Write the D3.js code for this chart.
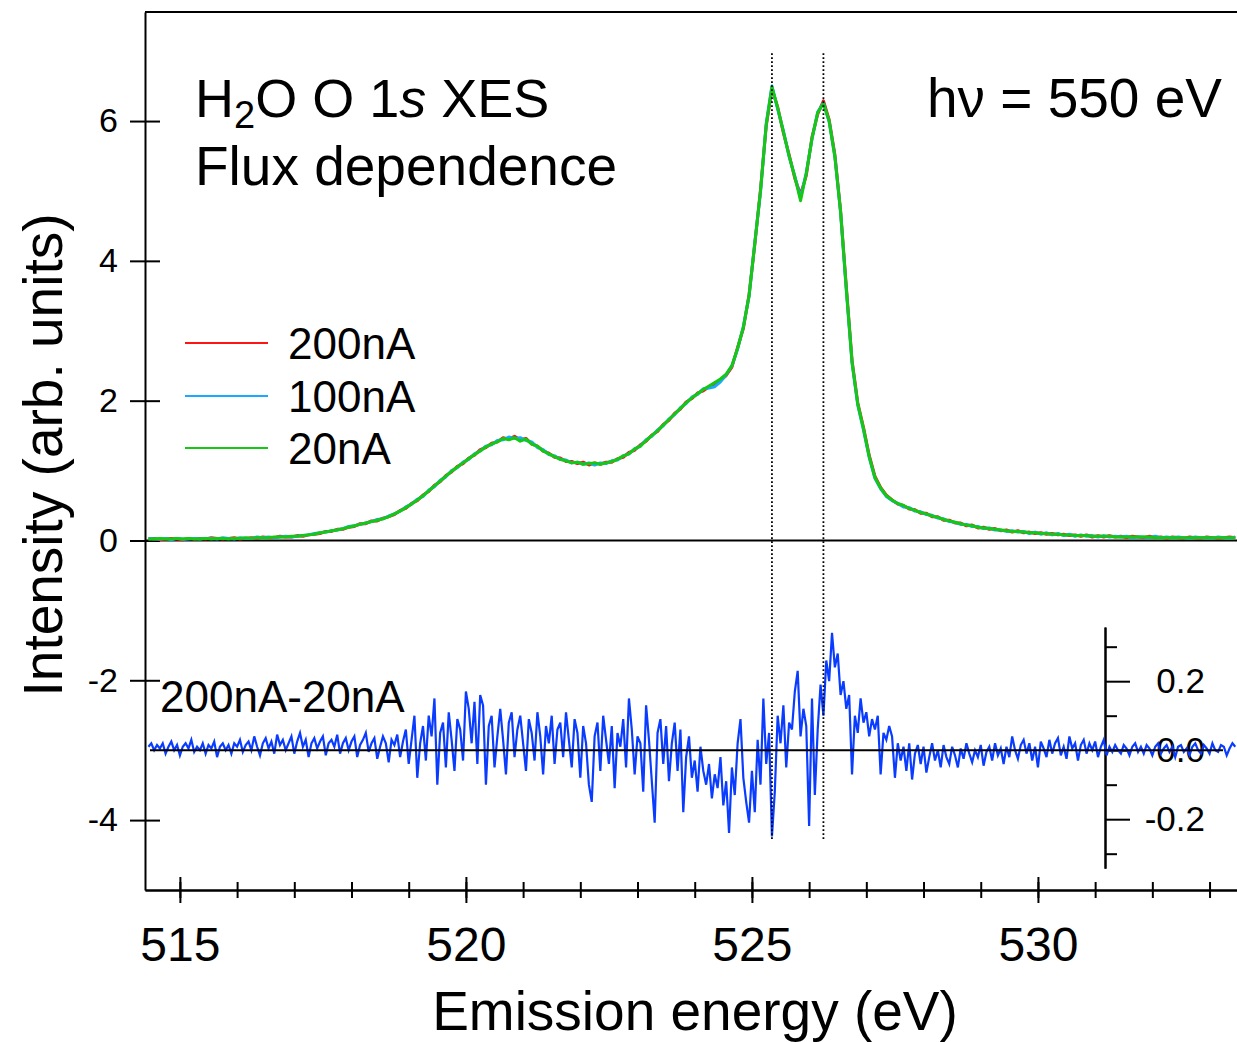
<!DOCTYPE html>
<html>
<head>
<meta charset="utf-8">
<script src="https://cdnjs.cloudflare.com/ajax/libs/d3/7.8.5/d3.min.js"></script>
<style>
body { margin: 0; background: #fff; }
text { font-family: "Liberation Sans", Arial, sans-serif; fill: #000; }
</style>
</head>
<body>
<div id="chart"></div>
<script>
// spectra sampled every 0.1 eV starting at 514.45 eV
var energy_start = 514.45, energy_step = 0.1;

var flux_200 = [
 0.02,0.03,0.01,0.02,0.03,0.02,0.01,0.03,0.02,0.03,
 0.02,0.04,0.03,0.02,0.03,0.04,0.02,0.03,0.04,0.03,
 0.05,0.04,0.04,0.06,0.05,0.05,0.07,0.06,0.08,0.09,
 0.10,0.13,0.13,0.16,0.16,0.19,0.20,0.24,0.24,0.28,
 0.28,0.32,0.34,0.37,0.43,0.46,0.53,0.57,0.65,0.70,
 0.79,0.84,0.93,0.98,1.06,1.10,1.18,1.22,1.30,1.33,
 1.39,1.41,1.47,1.45,1.49,1.44,1.46,1.38,1.35,1.28,
 1.25,1.19,1.18,1.13,1.13,1.10,1.12,1.08,1.11,1.09,
 1.12,1.12,1.17,1.19,1.26,1.29,1.37,1.42,1.51,1.56,
 1.66,1.72,1.82,1.88,1.98,2.03,2.11,2.14,2.20,2.24,
 2.29,2.36,2.48,2.76,3.03,3.52,4.23,5.02,5.93,6.46,
 6.20,5.83,5.52,5.18,4.95,5.22,5.77,6.10,6.29,6.02,
 5.52,4.72,3.63,2.58,1.97,1.62,1.22,0.92,0.76,0.65,
 0.58,0.52,0.50,0.45,0.44,0.39,0.39,0.34,0.34,0.29,
 0.29,0.25,0.25,0.21,0.22,0.18,0.19,0.16,0.17,0.14,
 0.15,0.12,0.14,0.11,0.12,0.10,0.11,0.09,0.10,0.08,
 0.09,0.07,0.08,0.06,0.08,0.05,0.07,0.05,0.07,0.05,
 0.06,0.04,0.06,0.05,0.04,0.06,0.04,0.05,0.03,0.05,
 0.04,0.03,0.05,0.04,0.03,0.05,0.04,0.03,0.04,0.05,
 0.04];

var flux_100 = [
 0.03,0.02,0.02,0.03,0.01,0.03,0.02,0.02,0.03,0.02,
 0.03,0.03,0.02,0.04,0.03,0.02,0.04,0.03,0.03,0.05,
 0.04,0.05,0.04,0.05,0.06,0.05,0.06,0.07,0.08,0.10,
 0.11,0.12,0.14,0.15,0.17,0.20,0.21,0.23,0.25,0.27,
 0.30,0.31,0.35,0.38,0.42,0.48,0.52,0.59,0.63,0.72,
 0.77,0.86,0.91,1.00,1.04,1.12,1.16,1.24,1.28,1.35,
 1.37,1.43,1.44,1.48,1.46,1.47,1.43,1.41,1.33,1.30,
 1.23,1.21,1.16,1.15,1.11,1.12,1.09,1.11,1.08,1.11,
 1.10,1.14,1.15,1.21,1.24,1.31,1.35,1.44,1.49,1.58,
 1.64,1.74,1.80,1.90,1.96,2.05,2.09,2.17,2.18,2.20,
 2.27,2.37,2.50,2.74,3.06,3.49,4.26,4.98,5.96,6.50,
 6.17,5.86,5.49,5.21,4.90,5.26,5.74,6.13,6.26,5.99,
 5.49,4.69,3.58,2.54,1.94,1.58,1.19,0.89,0.74,0.63,
 0.57,0.53,0.48,0.47,0.42,0.41,0.37,0.36,0.32,0.31,
 0.27,0.26,0.23,0.23,0.20,0.20,0.17,0.18,0.15,0.15,
 0.13,0.14,0.12,0.13,0.10,0.12,0.09,0.11,0.08,0.10,
 0.07,0.09,0.06,0.08,0.06,0.07,0.05,0.07,0.05,0.06,
 0.05,0.06,0.04,0.05,0.05,0.04,0.06,0.04,0.05,0.04,
 0.05,0.04,0.03,0.05,0.04,0.04,0.03,0.05,0.04,0.03,
 0.05];

var flux_20 = [
 0.02,0.02,0.03,0.02,0.02,0.03,0.02,0.03,0.02,0.02,
 0.03,0.02,0.03,0.03,0.02,0.03,0.03,0.04,0.03,0.04,
 0.04,0.04,0.05,0.05,0.05,0.06,0.06,0.07,0.08,0.09,
 0.11,0.12,0.14,0.15,0.17,0.19,0.21,0.23,0.25,0.27,
 0.29,0.31,0.34,0.38,0.42,0.47,0.52,0.58,0.64,0.71,
 0.78,0.85,0.92,0.99,1.05,1.11,1.17,1.23,1.28,1.34,
 1.38,1.41,1.46,1.44,1.47,1.42,1.45,1.38,1.35,1.28,
 1.24,1.20,1.16,1.14,1.11,1.12,1.09,1.10,1.11,1.09,
 1.11,1.13,1.16,1.21,1.24,1.31,1.35,1.43,1.50,1.57,
 1.65,1.73,1.81,1.89,1.97,2.04,2.10,2.16,2.21,2.26,
 2.31,2.38,2.50,2.75,3.05,3.50,4.25,5.00,5.95,6.49,
 6.19,5.85,5.50,5.20,4.86,5.25,5.75,6.12,6.25,6.00,
 5.49,4.70,3.60,2.55,1.95,1.60,1.20,0.90,0.75,0.64,
 0.58,0.53,0.50,0.46,0.43,0.40,0.38,0.35,0.33,0.30,
 0.28,0.26,0.24,0.22,0.21,0.19,0.18,0.17,0.16,0.15,
 0.14,0.13,0.13,0.12,0.11,0.11,0.10,0.10,0.09,0.09,
 0.08,0.08,0.07,0.07,0.07,0.06,0.06,0.06,0.06,0.05,
 0.05,0.05,0.05,0.05,0.05,0.05,0.04,0.04,0.04,0.04,
 0.04,0.04,0.04,0.04,0.04,0.04,0.04,0.04,0.04,0.04,
 0.04];

// difference 200nA - 20nA, every 0.05 eV starting at 514.45 eV
var diff_start = 514.45, diff_step = 0.05;
var diff_200_20 = [
 0.01,0.02,0.00,0.015,0.005,0.02,-0.01,0.01,0.025,0.00,
 0.015,-0.015,0.01,0.02,0.005,0.03,-0.005,0.01,0.00,0.02,
 -0.01,0.015,0.005,0.025,-0.02,0.01,0.02,0.00,0.015,-0.01,
 0.02,0.01,0.03,-0.005,0.015,0.025,0.00,0.04,0.01,-0.015,
 0.02,0.035,0.005,0.025,-0.01,0.045,0.015,0.03,0.00,0.02,
 0.04,-0.01,0.025,0.05,0.01,0.03,-0.02,0.02,0.035,0.005,
 0.025,0.04,-0.015,0.02,0.03,0.01,0.045,-0.01,0.02,0.035,
 0.00,0.025,0.04,-0.02,0.015,0.03,0.05,-0.005,0.02,0.035,
 -0.025,0.01,0.04,0.02,-0.035,0.03,0.015,0.045,-0.02,0.025,
 0.06,-0.04,0.03,0.10,-0.08,0.02,0.07,-0.03,0.10,0.04,
 0.15,-0.10,0.05,0.08,-0.05,0.11,0.03,-0.06,0.09,0.06,
 -0.03,0.17,0.12,0.02,0.14,-0.04,0.16,0.13,-0.10,0.07,
 0.10,-0.05,0.04,0.12,0.03,-0.07,0.08,0.11,-0.02,0.06,
 0.10,0.02,-0.06,0.09,0.05,-0.03,0.11,0.04,-0.07,0.07,
 0.02,0.10,-0.04,0.06,0.08,-0.02,0.11,0.03,-0.05,0.09,
 0.05,-0.08,0.07,0.02,-0.10,-0.15,0.04,0.08,-0.06,0.10,
 0.03,-0.04,0.07,-0.11,0.05,0.01,0.09,-0.05,0.15,0.06,
 -0.07,0.04,0.02,-0.12,0.13,0.03,-0.09,-0.21,0.05,0.09,
 -0.04,0.07,-0.09,0.02,0.08,-0.06,0.06,-0.18,-0.02,0.04,
 -0.08,-0.03,-0.12,0.01,-0.06,-0.10,-0.04,-0.14,-0.07,-0.11,
 -0.02,-0.16,-0.09,-0.24,-0.05,-0.13,0.02,0.09,-0.08,-0.15,
 -0.21,-0.06,-0.18,0.03,-0.10,0.15,-0.04,0.05,-0.25,-0.12,
 0.10,0.02,0.13,-0.05,0.08,0.06,0.17,0.23,0.04,0.12,
 0.07,-0.22,0.15,-0.13,0.06,0.19,0.10,0.26,0.20,0.34,
 0.24,0.28,0.16,0.20,0.12,0.16,-0.07,0.10,0.05,0.15,
 0.08,0.11,0.04,0.09,0.06,0.10,-0.07,0.05,0.03,0.07,
 0.04,-0.08,0.02,-0.03,0.01,-0.06,0.02,-0.085,-0.01,0.015,
 -0.04,0.01,-0.065,-0.02,0.02,-0.03,0.00,-0.05,0.015,-0.02,
 -0.04,0.01,-0.015,-0.05,0.005,-0.025,0.02,-0.01,-0.035,0.00,
 -0.02,0.015,-0.045,-0.005,0.01,-0.03,0.02,-0.015,0.005,-0.04,
 0.01,-0.02,0.04,0.00,-0.025,0.015,0.03,-0.01,0.02,-0.03,
 0.01,-0.05,0.025,0.005,-0.02,0.03,-0.01,0.02,0.035,-0.015,
 0.01,-0.025,0.04,0.005,0.02,-0.03,0.015,0.03,-0.01,0.02,
 0.00,0.025,-0.02,0.01,0.03,-0.015,0.01,-0.005,0.015,0.00,
 -0.01,0.015,0.005,-0.015,0.01,0.02,-0.005,0.01,-0.01,0.015,
 0.005,-0.015,0.01,0.02,-0.01,0.005,0.015,-0.005,0.01,-0.02,
 0.01,0.015,-0.005,0.005,-0.015,0.01,0.02,0.00,-0.01,0.015,
 0.005,-0.01,0.02,0.00,-0.005,0.015,0.01,-0.015,0.005,0.02,
 0.01];

var series_names = ["200nA", "100nA", "20nA"];
var series_colors = ["#ff1414", "#19aaff", "#14c814"];
var peak_lines = [525.35, 526.25];
var x_ticks_major = [515, 520, 525, 530];
var x_ticks_minor = [515,516,517,518,519,520,521,522,523,524,525,526,527,528,529,530,531,532,533];
var y_ticks = [-4, -2, 0, 2, 4, 6];
var diff_ticks_major = [-0.2, 0, 0.2];
var diff_ticks_minor = [-0.3, -0.1, 0.1, 0.3];
var diff_offset = -3;

var width = 1237;
var height = 1042;

var svg = d3.select("#chart").append("svg")
		.attr("width", width)
		.attr("height", height);

var x = d3.scaleLinear().domain([514.39, 533.48]).range([145, 1237]);
var y = d3.scaleLinear().domain([-5, 7.56]).range([890, 12]);
// difference panel: zero sits at -3 on the main axis, 0.2 -> 69 px
var yDiff = d3.scaleLinear().domain([-0.2, 0.2]).range([y(diff_offset) + 69, y(diff_offset) - 69]);

// top frame line
svg.append("line")
	.attr("x1", 145).attr("x2", width)
	.attr("y1", y(7.56)).attr("y2", y(7.56))
	.style("stroke", "#000").style("stroke-width", 2);

// left axis, ticks crossing the line
var yAxis = svg.append("g")
	.attr("transform", "translate(145,0)")
	.call(d3.axisLeft(y).tickValues(y_ticks).tickSize(15).tickPadding(12).tickSizeOuter(0)
		.tickFormat(function(d) { return String(d); }));
yAxis.selectAll(".tick line").attr("x1", 15);
yAxis.selectAll(".tick text").style("font-size", "34px");

// bottom axis: major + minor ticks
var xMinor = svg.append("g")
	.attr("transform", "translate(0,890)")
	.call(d3.axisBottom(x).tickValues(x_ticks_minor).tickSize(8).tickSizeOuter(0).tickFormat(""));
xMinor.selectAll(".tick line").attr("y1", -8);
var xAxis = svg.append("g")
	.attr("transform", "translate(0,890)")
	.call(d3.axisBottom(x).tickValues(x_ticks_major).tickSize(13).tickPadding(24).tickSizeOuter(0));
xAxis.selectAll(".tick line").attr("y1", -13);
xAxis.selectAll(".tick text").style("font-size", "48px");

svg.selectAll(".domain, .tick line").style("stroke", "#000").style("stroke-width", 2);

// axis titles
svg.append("text")
	.attr("x", 695).attr("y", 1030)
	.attr("text-anchor", "middle")
	.style("font-size", "55px")
	.text("Emission energy (eV)");
svg.append("text")
	.attr("transform", "translate(62,455) rotate(-90)")
	.attr("text-anchor", "middle")
	.style("font-size", "55px")
	.text("Intensity (arb. units)");

// inset axis for the difference curve
var yDiffAxisScale = yDiff.copy().domain([-0.342, 0.357]).range([yDiff(-0.342), yDiff(0.357)]);
var dAxisMinor = svg.append("g")
	.attr("transform", "translate(1105,0)")
	.call(d3.axisRight(yDiffAxisScale).tickValues(diff_ticks_minor).tickSize(12).tickSizeOuter(0).tickFormat(""));
var dAxis = svg.append("g")
	.attr("transform", "translate(1105,0)")
	.call(d3.axisRight(yDiffAxisScale).tickValues(diff_ticks_major).tickSize(25).tickSizeOuter(0)
		.tickFormat(function(d) { return d.toFixed(1); }));
dAxis.selectAll(".tick text")
	.attr("x", 100)
	.attr("text-anchor", "end")
	.style("font-size", "35px");
dAxisMinor.selectAll(".domain, .tick line").style("stroke", "#000").style("stroke-width", 2);
dAxis.selectAll(".domain, .tick line").style("stroke", "#000").style("stroke-width", 2);

// zero line of the spectra
svg.append("line")
	.attr("x1", 145).attr("x2", width)
	.attr("y1", y(0)).attr("y2", y(0))
	.style("stroke", "#000").style("stroke-width", 2);

// spectra, green drawn last
var all_series = [flux_200, flux_100, flux_20];
var line = d3.line()
	.x(function(d, i) { return x(energy_start + i * energy_step); })
	.y(function(d) { return y(d); });

svg.selectAll("path.spec").data(all_series).enter().append("path")
	.attr("class", "spec")
	.attr("d", line)
	.style("fill", "none")
	.style("stroke", function(d, i) { return series_colors[i]; })
	.style("stroke-width", 3)
	.style("stroke-linejoin", "round");

// difference curve
var diffLine = d3.line()
	.x(function(d, i) { return x(diff_start + i * diff_step); })
	.y(function(d) { return yDiff(d); });
svg.append("path")
	.datum(diff_200_20)
	.attr("d", diffLine)
	.style("fill", "none")
	.style("stroke", "#0a3cff")
	.style("stroke-width", 2.2);

svg.append("line")
	.attr("x1", 150).attr("x2", 1223)
	.attr("y1", yDiff(0)).attr("y2", yDiff(0))
	.style("stroke", "#000").style("stroke-width", 2);

// dotted markers at the two peaks
svg.selectAll("line.peak").data(peak_lines).enter().append("line")
	.attr("class", "peak")
	.attr("x1", function(d) { return x(d); })
	.attr("x2", function(d) { return x(d); })
	.attr("y1", y(6.97)).attr("y2", y(-4.28))
	.style("stroke", "#000")
	.style("stroke-width", 1.8)
	.style("stroke-dasharray", "1.8,2.2");

// legend
var legend_y = [343, 396, 448];
var legend = svg.selectAll("g.legend").data(series_names).enter().append("g")
	.attr("class", "legend");
legend.append("line")
	.attr("x1", 185).attr("x2", 268)
	.attr("y1", function(d, i) { return legend_y[i]; })
	.attr("y2", function(d, i) { return legend_y[i]; })
	.style("stroke", function(d, i) { return series_colors[i]; })
	.style("stroke-width", 2);
legend.append("text")
	.attr("x", 288)
	.attr("y", function(d, i) { return legend_y[i] + 16; })
	.style("font-size", "44px")
	.text(function(d) { return d; });

// labels
var title = svg.append("text").attr("x", 195).attr("y", 117).style("font-size", "54px");
title.append("tspan").text("H");
title.append("tspan").attr("dy", 11).style("font-size", "38px").text("2");
title.append("tspan").attr("dy", -11).text("O O 1");
title.append("tspan").style("font-style", "italic").text("s");
title.append("tspan").text(" XES");

svg.append("text")
	.attr("x", 195).attr("y", 185)
	.style("font-size", "55px")
	.text("Flux dependence");

svg.append("text")
	.attr("x", 1222).attr("y", 117)
	.attr("text-anchor", "end")
	.style("font-size", "55px")
	.text("h\u03bd = 550 eV");

svg.append("text")
	.attr("x", 160).attr("y", 712)
	.style("font-size", "44px")
	.text("200nA-20nA");
</script>
</body>
</html>
